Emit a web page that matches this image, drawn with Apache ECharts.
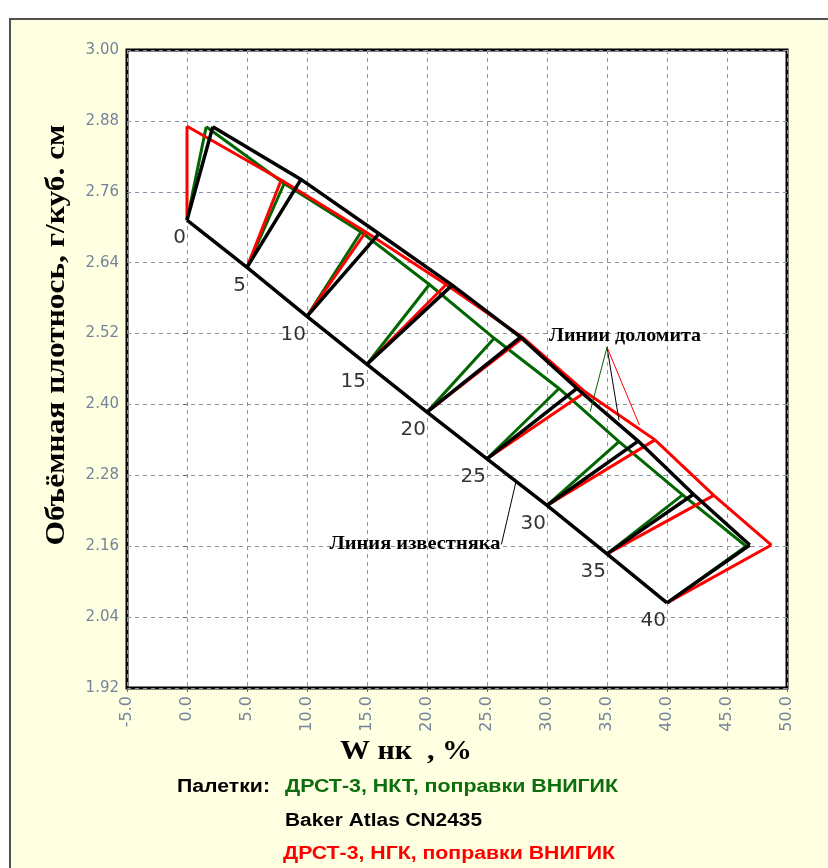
<!DOCTYPE html>
<html>
<head>
<meta charset="utf-8">
<script src="https://cdn.jsdelivr.net/npm/echarts@6/dist/echarts.min.js"></script>
<style>
  html, body { margin: 0; padding: 0; background: #ffffff; }
  #wrap { position: relative; width: 828px; height: 868px; overflow: hidden; }
  #panel { position: absolute; left: 9px; top: 18px; width: 840px; height: 870px;
           background: #ffffe1; border: 2px solid #505050; box-sizing: border-box; }
  #chart { position: absolute; left: 0; top: 0; width: 828px; height: 868px; }
</style>
</head>
<body>
<div id="wrap">
  <div id="panel"></div>
  <div id="chart"></div>
</div>
<script>
// Porosity marks (%) along the limestone line
const porosityLabels = ['0', '5', '10', '15', '20', '25', '30', '35', '40'];

// Limestone line: apparent neutron porosity and bulk density
const limestoneX = [0, 5, 10, 15, 20, 25, 30, 35, 40];
const limestoneY = [2.712, 2.632, 2.549, 2.468, 2.387, 2.308, 2.229, 2.147, 2.064];

// Dolomite lines, one point per porosity mark
// ДРСТ-3, НКТ, поправки ВНИГИК
const greenDolX = [1.6, 8.1, 14.5, 20.2, 25.6, 31.0, 36.0, 41.3, 46.6];
const greenDolY = [2.870, 2.774, 2.692, 2.603, 2.512, 2.427, 2.337, 2.247, 2.160];
// Baker Atlas CN2435
const blackDolX = [2.15, 9.5, 16.0, 22.1, 27.8, 32.5, 37.6, 42.2, 46.9];
const blackDolY = [2.870, 2.781, 2.689, 2.602, 2.514, 2.427, 2.338, 2.248, 2.162];
// ДРСТ-3, НГК, поправки ВНИГИК
const redDolX = [0.0, 7.85, 14.9, 21.6, 28.0, 33.2, 39.0, 43.9, 48.7];
const redDolY = [2.871, 2.780, 2.692, 2.603, 2.513, 2.421, 2.340, 2.246, 2.162];

// Axis ranges
const xMin = -5, xMax = 50, xStep = 5;
const yMin = 1.92, yMax = 3.00, yStep = 0.12;

// Callout leaders (data units)
const dolomiteLeaderStart = [35.0, 2.497];
const dolomiteLeaderEnds = { green: [33.6, 2.388], black: [36.0, 2.373], red: [37.7, 2.365] };
const limestoneLeader = [[26.2, 2.163], [27.4, 2.268]];
const dolomiteCaption = [36.5, 2.516];
const limestoneCaption = [19.0, 2.163];

const GREEN = '#006600';
const RED = '#ff0000';
const BLACK = '#000000';

function paletteLines(dx, dy, withLimestone) {
  const out = [];
  out.push({ coords: dx.map((x, i) => [x, dy[i]]) });
  for (let i = 0; i < dx.length; i++) {
    out.push({ coords: [[limestoneX[i], limestoneY[i]], [dx[i], dy[i]]] });
  }
  if (withLimestone) {
    out.push({ coords: limestoneX.map((x, i) => [x, limestoneY[i]]) });
  }
  return out;
}

function linesSeries(data, color, width, z) {
  return {
    type: 'lines', coordinateSystem: 'cartesian2d', polyline: true, silent: true,
    data: data, z: z,
    lineStyle: { color: color, width: width, opacity: 1, curveness: 0, join: 'miter' }
  };
}

const chart = echarts.init(document.getElementById('chart'), null, { renderer: 'canvas' });

const axisLabelColor = '#74849a';
const gridColor = '#8593a8';

chart.setOption({
  backgroundColor: 'transparent',
  animation: false,
  grid: {
    left: 127, right: 41, top: 50, bottom: 180,
    show: true, backgroundColor: '#ffffff', borderColor: '#000', borderWidth: 3
  },
  xAxis: {
    type: 'value', min: xMin, max: xMax, interval: xStep,
    axisLine: { show: false },
    axisTick: { show: true, length: 4, lineStyle: { color: '#606a78' } },
    splitLine: { show: true, lineStyle: { color: gridColor, type: [4, 4], width: 1 } },
    axisLabel: {
      rotate: 90, margin: 8, color: axisLabelColor,
      fontFamily: 'DejaVu Sans', fontSize: 16,
      formatter: v => v.toFixed(1)
    }
  },
  yAxis: {
    type: 'value', min: yMin, max: yMax, interval: yStep,
    axisLine: { show: false },
    axisTick: { show: true, length: 4, lineStyle: { color: '#606a78' } },
    splitLine: { show: true, lineStyle: { color: gridColor, type: [4, 4], width: 1 } },
    axisLabel: {
      margin: 8, color: axisLabelColor,
      fontFamily: 'DejaVu Sans', fontSize: 15,
      formatter: v => v.toFixed(2)
    }
  },
  series: [
    linesSeries(paletteLines(greenDolX, greenDolY, false), GREEN, 3, 3),
    linesSeries(paletteLines(redDolX, redDolY, false), RED, 3, 4),
    linesSeries(paletteLines(blackDolX, blackDolY, true), BLACK, 3.5, 5),
    // callout leaders
    {
      type: 'lines', coordinateSystem: 'cartesian2d', polyline: false, silent: true, z: 6,
      data: [
        { coords: [dolomiteLeaderStart, dolomiteLeaderEnds.green], lineStyle: { color: GREEN } },
        { coords: [dolomiteLeaderStart, dolomiteLeaderEnds.black], lineStyle: { color: BLACK } },
        { coords: [dolomiteLeaderStart, dolomiteLeaderEnds.red], lineStyle: { color: RED } },
        { coords: limestoneLeader, lineStyle: { color: BLACK } }
      ],
      lineStyle: { width: 1, opacity: 1, curveness: 0 }
    },
    // porosity marks on the limestone line
    {
      type: 'scatter', silent: true, z: 7, symbolSize: 0,
      data: limestoneX.map((x, i) => ({ value: [x, limestoneY[i]], name: porosityLabels[i] })),
      label: {
        show: true, formatter: '{b}', position: [-1, 18], align: 'right', verticalAlign: 'middle',
        fontFamily: 'DejaVu Sans', fontSize: 20, color: '#000'
      }
    }
  ]
});

// Text helpers: measure a string and stretch it to the wanted width
const measureCtx = document.createElement('canvas').getContext('2d');
function textWidth(text, font) {
  measureCtx.font = font;
  return measureCtx.measureText(text).width;
}
function stretchedText(text, font, color, x, y, width, align, rotation) {
  const sx = width / textWidth(text, font);
  return {
    type: 'text', x: x, y: y, rotation: rotation || 0, scaleX: sx, scaleY: 1,
    silent: true, z: 100,
    style: {
      text: text, font: font, fill: color,
      align: align, verticalAlign: 'middle', textAlign: align, textVerticalAlign: 'middle'
    }
  };
}

const serifBold = (px) => 'bold ' + px + 'px "Liberation Serif"';
const sansBold = (px) => 'bold ' + px + 'px "Liberation Sans"';

const capDol = chart.convertToPixel({ gridIndex: 0 }, dolomiteCaption);
const capLime = chart.convertToPixel({ gridIndex: 0 }, limestoneCaption);

chart.setOption({
  graphic: [
    stretchedText('Объёмная плотнось, г/куб. см', serifBold(27), '#000', 57, 335, 421, 'center', Math.PI / 2),
    stretchedText('W нк  , %', serifBold(28), '#000', 406, 752, 132, 'center'),
    stretchedText('Линии доломита', serifBold(19), '#000', capDol[0], capDol[1], 152, 'center'),
    stretchedText('Линия известняка', serifBold(19), '#000', capLime[0], capLime[1], 171, 'center'),
    stretchedText('Палетки:', sansBold(18), '#000', 177, 787, 93, 'left'),
    stretchedText('ДРСТ-3, НКТ, поправки ВНИГИК', sansBold(18), '#0c6e0c', 285, 787, 333, 'left'),
    stretchedText('Baker Atlas CN2435', sansBold(18), '#000', 285, 821, 197, 'left'),
    stretchedText('ДРСТ-3, НГК, поправки ВНИГИК', sansBold(18), RED, 283, 854, 332, 'left')
  ]
});
</script>
</body>
</html>
